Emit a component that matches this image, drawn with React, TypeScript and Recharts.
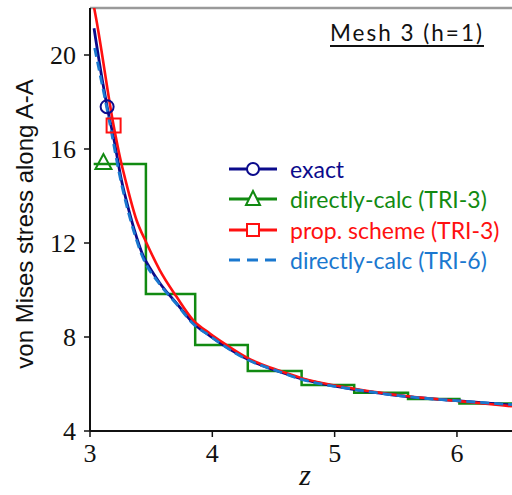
import { LineChart, Line, XAxis, YAxis, ReferenceLine, Legend } from 'recharts'

// exact solution
const exactZ = [3.033, 3.1, 3.14, 3.2, 3.256, 3.3, 3.36, 3.435, 3.5, 3.57, 3.708, 3.843, 3.98, 4.09, 4.29, 4.55, 4.73, 5.16, 5.6, 6.02, 6.45]
const exactV = [21.14, 18.95, 17.8, 16.3, 14.7, 13.75, 12.6, 11.45, 10.85, 10.3, 9.43, 8.6, 8.05, 7.66, 7.05, 6.52, 6.22, 5.77, 5.46, 5.28, 5.1]

// directly-calc (TRI-3), piecewise constant per element
const tri3Z = [3.03, 3.11, 3.457, 3.86, 4.29, 4.73, 5.16, 5.6, 6.02, 6.45]
const tri3V = [15.36, 15.36, 9.83, 7.66, 6.55, 5.96, 5.63, 5.36, 5.17, 5.17]

// proposed scheme (TRI-3)
const propZ = [3.02, 3.052, 3.193, 3.25, 3.29, 3.38, 3.463, 3.57, 3.708, 3.843, 3.98, 4.09, 4.29, 4.55, 4.73, 5.16, 5.6, 6.02, 6.45]
const propV = [22.4, 21.5, 17.0, 15.53, 14.68, 12.98, 11.99, 10.85, 9.71, 8.72, 8.15, 7.75, 7.1, 6.56, 6.25, 5.8, 5.48, 5.27, 5.05]

// directly-calc (TRI-6)
const tri6Z = [3.038, 3.147, 3.256, 3.33, 3.435, 3.57, 3.708, 3.843, 3.98, 4.09, 4.29, 4.55, 4.73, 5.16, 5.6, 6.02, 6.45]
const tri6V = [20.3, 17.5, 14.55, 13.0, 11.35, 10.25, 9.4, 8.56, 8.05, 7.64, 7.03, 6.52, 6.2, 5.77, 5.46, 5.28, 5.12]

const xTicks = [3, 4, 5, 6]
const yTicks = [4, 8, 12, 16, 20]

const NAVY = '#0b0b8c'
const GREEN = '#118a11'
const RED = '#ff1010'
const BLUE = '#1a78cf'

const SERIF = '"Liberation Serif", "Times New Roman", serif'
const SANS = 'Lato, "Noto Sans", sans-serif'

const pts = (zs: number[], vs: number[]) => zs.map((z, i) => ({ z, v: vs[i] }))

const exactData = pts(exactZ, exactV)
const tri3Data = pts(tri3Z, tri3V)
const propData = pts(propZ, propV)
const tri6Data = pts(tri6Z, tri6V)

const exactMark = 2
const tri3Mark = 1
const propMark = 2

const Circle = ({ cx, cy, c }: any) => <circle cx={cx} cy={cy} r={6.5} fill="none" stroke={c} strokeWidth={2} />
const Tri = ({ cx, cy, c }: any) => (
  <polygon points={`${cx},${cy - 10} ${cx - 8},${cy + 5} ${cx + 8},${cy + 5}`} fill="none" stroke={c} strokeWidth={2} />
)
const Sq = ({ cx, cy, c }: any) => <rect x={cx - 7} y={cy - 7} width={14} height={14} fill="none" stroke={c} strokeWidth={2} />

const markDot = (mark: number, Shape: any, c: string) => (p: any) =>
  p.index === mark ? <Shape key={`m${p.index}`} cx={p.cx} cy={p.cy} c={c} /> : <g key={`n${p.index}`} />

const YLabel = () => (
  <text x={33} y={224} transform="rotate(-90 33 224)" textAnchor="middle" fontFamily='"Liberation Sans", Arial, sans-serif' fontSize={24} fill="#111">
    von Mises stress along A-A
  </text>
)

const ZLabel = () => (
  <text x={305} y={485} textAnchor="middle" fontFamily={SERIF} fontSize={30} fill="#111" style={{ fontStyle: 'italic' }}>
    z
  </text>
)

const legendRows = [
  { name: 'exact', c: NAVY, shape: 'circle' },
  { name: 'directly-calc (TRI-3)', c: GREEN, shape: 'tri' },
  { name: 'prop. scheme (TRI-3)', c: RED, shape: 'sq' },
  { name: 'directly-calc (TRI-6)', c: BLUE, shape: 'dash' },
]

const renderLegend = () => (
  <div style={{ fontFamily: SANS, fontSize: 23 }}>
    {legendRows.map((r) => (
      <div key={r.name} style={{ display: 'flex', alignItems: 'center', height: 30.3 }}>
        <svg width={52} height={30}>
          {r.shape === 'dash' ? (
            <line x1={3} x2={51} y1={15} y2={15} stroke={r.c} strokeWidth={3} strokeDasharray="11 7" />
          ) : (
            <line x1={3} x2={51} y1={15} y2={15} stroke={r.c} strokeWidth={3} />
          )}
          {r.shape === 'circle' && <circle cx={27} cy={15} r={6} fill="#fff" stroke={r.c} strokeWidth={2} />}
          {r.shape === 'tri' && <polygon points="27,7 20,21 34,21" fill="#fff" stroke={r.c} strokeWidth={2} />}
          {r.shape === 'sq' && <rect x={21} y={9} width={12} height={12} fill="#fff" stroke={r.c} strokeWidth={2} />}
        </svg>
        <span style={{ color: r.c, marginLeft: 12, whiteSpace: 'nowrap' }}>{r.name}</span>
      </div>
    ))}
  </div>
)

export default function App() {
  return (
    <div style={{ position: 'absolute', left: 0, top: 0, width: 512, height: 495, background: '#fff' }}>
      <LineChart width={512} height={495} margin={{ top: 8, right: 0, left: 0, bottom: 0 }}>
        <XAxis
          type="number"
          dataKey="z"
          domain={[3, 6.45]}
          ticks={xTicks}
          allowDataOverflow
          height={64}
          tickSize={6}
          tickMargin={7}
          axisLine={{ stroke: '#111', strokeWidth: 2 }}
          tickLine={{ stroke: '#111', strokeWidth: 1.5 }}
          tick={{ fontFamily: SERIF, fontSize: 26, fill: '#111' }}
          label={<ZLabel />}
        />
        <YAxis
          type="number"
          dataKey="v"
          domain={[4, 22]}
          ticks={yTicks}
          allowDataOverflow
          width={90}
          tickSize={6}
          tickMargin={8}
          axisLine={{ stroke: '#111', strokeWidth: 2 }}
          tickLine={{ stroke: '#111', strokeWidth: 1.5 }}
          tick={{ fontFamily: SERIF, fontSize: 26, fill: '#111' }}
          label={<YLabel />}
        />
        <ReferenceLine y={22} stroke="#9a9a9a" strokeWidth={2.5} />
        <Line data={tri3Data} dataKey="v" type="stepAfter" stroke={GREEN} strokeWidth={2.5} dot={markDot(tri3Mark, Tri, GREEN)} activeDot={false} isAnimationActive={false} />
        <Line data={exactData} dataKey="v" type="monotone" stroke={NAVY} strokeWidth={2.8} dot={markDot(exactMark, Circle, NAVY)} activeDot={false} isAnimationActive={false} />
        <Line data={propData} dataKey="v" type="monotone" stroke={RED} strokeWidth={2.6} dot={markDot(propMark, Sq, RED)} activeDot={false} isAnimationActive={false} />
        <Line data={tri6Data} dataKey="v" type="monotone" stroke={BLUE} strokeWidth={2.8} strokeDasharray="9 5" dot={false} activeDot={false} isAnimationActive={false} />
        <Legend
          layout="vertical"
          align="center"
          verticalAlign="middle"
          content={renderLegend}
          wrapperStyle={{ left: 226, top: 154, width: 290, height: 122 }}
        />
      </LineChart>
      <div
        style={{
          position: 'absolute',
          left: 330,
          top: 20,
          fontFamily: SANS,
          fontSize: 22.5,
          letterSpacing: 2,
          lineHeight: '26px',
          color: '#111',
          textDecoration: 'underline',
          textDecorationThickness: 2,
          textUnderlineOffset: 4,
          whiteSpace: 'nowrap',
        }}
      >
        Mesh 3 (h=1)
      </div>
    </div>
  )
}
